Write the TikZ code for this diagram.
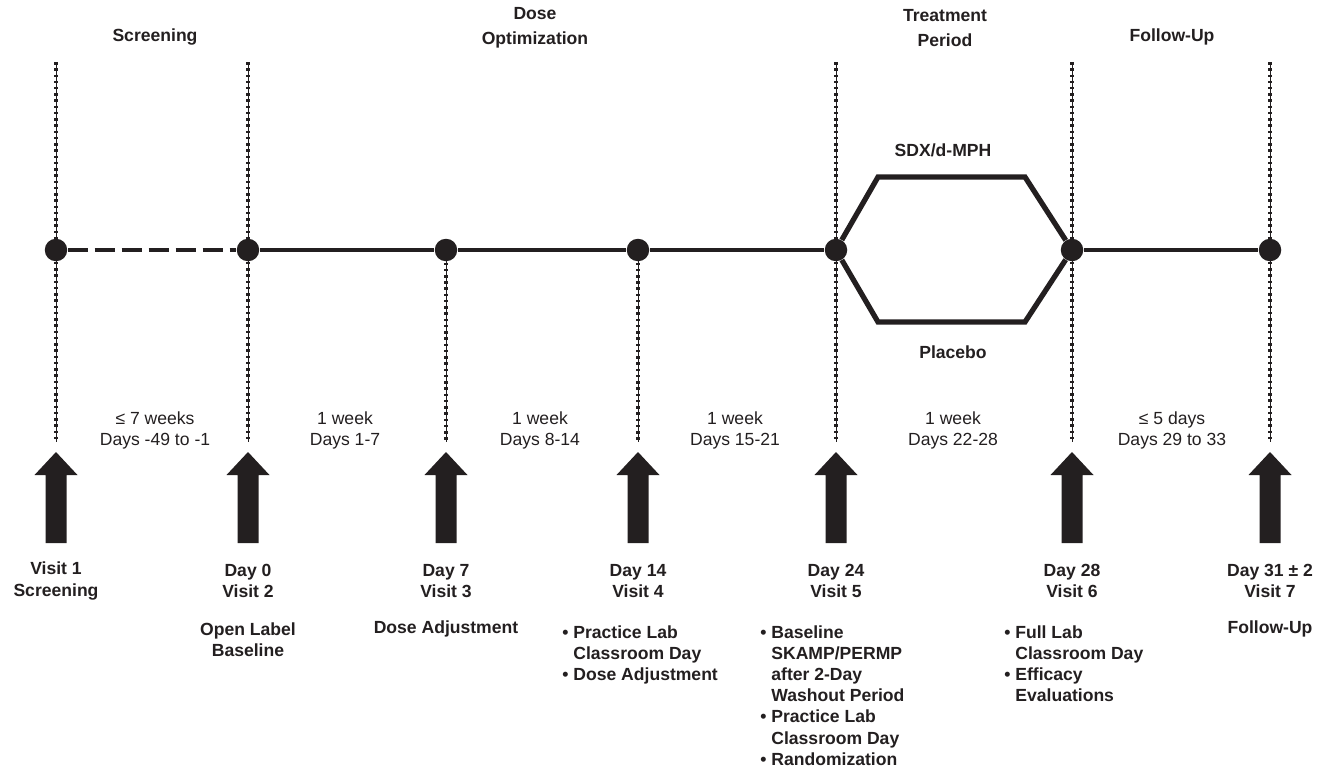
\documentclass[tikz,border=0pt]{standalone}
\usepackage{fontspec}
\setmainfont{Liberation Sans}
\usetikzlibrary{positioning}
\definecolor{ink}{HTML}{231F20}

\begin{document}
\begin{tikzpicture}[x=0.02cm,y=-0.02cm,color=ink]
    \tikzset{
    phase/.style={font=\bfseries, align=center},
    span/.style={align=center},
    visitname/.style={font=\bfseries, align=center},
    tasks/.style={font=\bfseries, align=left, anchor=north west, inner sep=0pt},
    dot/.style={circle, fill=ink, minimum size=0.45cm, inner sep=0pt},
    guide/.style={line width=0.5pt},
    guidedots/.style={line width=0.07cm, dash pattern=on 0.05cm off 0.075cm},
    track/.style={line width=0.08cm},
    arm/.style={line width=0.105cm, line join=miter},
    }
    \useasboundingbox (0,0) rectangle (1323,768);
    \def\bul{\textbullet\ }
    \def\ind{\hphantom{\textbullet\ }}

    % Guide lines (full height, then from the timeline down).
    \foreach \x in {56,248,836,1072,1270} {
      \draw [guide]     (\x,62) -- (\x,442);
      \draw [guidedots] (\x,62) -- (\x,442);
    }
    \foreach \x in {446,638} {
      \draw [guide]     (\x,250) -- (\x,442);
      \draw [guidedots] (\x,250) -- (\x,442);
    }

    % Visits on the timeline.
    \path (56,250)   node [dot] (v1) {};   % screening
    \path (248,250)  node [dot] (v2) {};   % day 0
    \path (446,250)  node [dot] (v3) {};   % day 7
    \path (638,250)  node [dot] (v4) {};   % day 14
    \path (836,250)  node [dot] (v5) {};   % day 24
    \path (1072,250) node [dot] (v6) {};   % day 28
    \path (1270,250) node [dot] (v7) {};   % follow-up

    % Treatment arms.
    \coordinate (a1) at (878,177);  % active, left corner
    \coordinate (a2) at (1025,177); % active, right corner
    \coordinate (b1) at (878,322);  % placebo, left corner
    \coordinate (b2) at (1025,322); % placebo, right corner

    % Timeline.
    \draw [track, dash pattern=on 0.4cm off 0.14cm] (v1) -- (v2);
    \draw [track] (v2) -- (v3) -- (v4) -- (v5);
    \draw [arm] (v5) -- (a1) -- (a2) -- (v6);
    \draw [arm] (v5) -- (b1) -- (b2) -- (v6);
    \draw [track] (v6) -- (v7);

    \path (943,150) node [phase] (sdx)     {SDX/d-MPH};
    \path (953,352) node [phase] (placebo) {Placebo};

    % Study phases.
    \path (155,37)  node [phase] (screening) {Screening};
    \path (535,28)  node [phase] (doseopt)   {Dose\\[2pt]Optimization};
    \path (945,28)  node [phase] (treatment) {Treatment\\[2pt]Period};
    \path (1172,37) node [phase] (followup)  {Follow-Up};

    % Intervals.
    \path (155,430)  node [span] (i1) {≤ 7 weeks\\Days -49 to -1};
    \path (345,430)  node [span] (i2) {1 week\\Days 1-7};
    \path (540,430)  node [span] (i3) {1 week\\Days 8-14};
    \path (735,430)  node [span] (i4) {1 week\\Days 15-21};
    \path (953,430)  node [span] (i5) {1 week\\Days 22-28};
    \path (1172,430) node [span] (i6) {≤ 5 days\\Days 29 to 33};

    % Visit arrows.
    \foreach \x in {56,248,446,638,836,1072,1270}
      \fill (\x,452) -- ++(21.5,23) -- ++(-11,0) -- ++(0,68) -- ++(-21,0) -- ++(0,-68) -- ++(-11,0) -- cycle;

    % Visit names.
    \path (56,581)   node [visitname] (n1) {Visit 1\\Screening};
    \path (248,581)  node [visitname] (n2) {Day 0\\Visit 2};
    \path (446,581)  node [visitname] (n3) {Day 7\\Visit 3};
    \path (638,581)  node [visitname] (n4) {Day 14\\Visit 4};
    \path (836,581)  node [visitname] (n5) {Day 24\\Visit 5};
    \path (1072,581) node [visitname] (n6) {Day 28\\Visit 6};
    \path (1270,581) node [visitname] (n7) {Day 31 ± 2\\Visit 7};

    % Visit contents.
    \path (248,640)  node [visitname] (t2) {Open Label\\Baseline};
    \path (446,629)  node [visitname] (t3) {Dose Adjustment};
    \path (562,625.5) node [tasks] (t4) {\bul Practice Lab\\\ind Classroom Day\\\bul Dose Adjustment};
    \path (760,625.5) node [tasks] (t5) {\bul Baseline\\\ind SKAMP/PERMP\\\ind after 2-Day\\\ind Washout Period\\\bul Practice Lab\\\ind Classroom Day\\\bul Randomization};
    \path (1004,625.5) node [tasks] (t6) {\bul Full Lab\\\ind Classroom Day\\\bul Efficacy\\\ind Evaluations};
    \path (1270,629) node [visitname] (t7) {Follow-Up};
\end{tikzpicture}
\end{document}
